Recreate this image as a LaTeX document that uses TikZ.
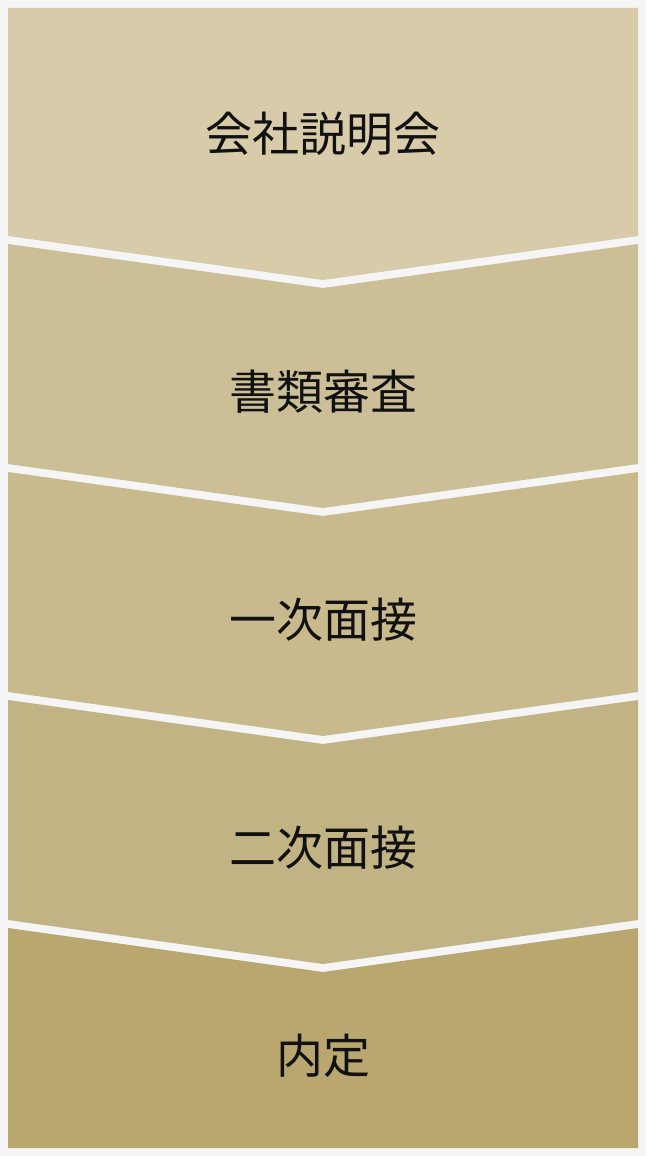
\documentclass[tikz,border=0pt]{standalone}
\usepackage{fontspec}
\newfontfamily\jpfont{Noto Sans CJK JP}
\definecolor{bgc}{HTML}{F5F5F5}
\definecolor{cA}{HTML}{D7CBAA}
\definecolor{cB}{HTML}{CCBF97}
\definecolor{cC}{HTML}{C8BA8D}
\definecolor{cD}{HTML}{C2B384}
\definecolor{cE}{HTML}{B9A76F}
\definecolor{txt}{HTML}{111111}
\tikzset{
  stagetext/.style={anchor=base, inner sep=0pt, text=txt, font=\jpfont\fontsize{47}{50}\selectfont},
}
\begin{document}
\begin{tikzpicture}[x=1pt,y=-1pt]
\fill[bgc] (0,0) rectangle (646,1156);
\useasboundingbox (0,0) rectangle (646,1156);
\fill[cA] (8,8) -- (638,8) -- (638,236) -- (323,280) -- (8,236) -- cycle;
\fill[cB] (8,244) -- (323,288) -- (638,244) -- (638,464) -- (323,508) -- (8,464) -- cycle;
\fill[cC] (8,472) -- (323,516) -- (638,472) -- (638,692) -- (323,736) -- (8,692) -- cycle;
\fill[cD] (8,700) -- (323,744) -- (638,700) -- (638,920) -- (323,964) -- (8,920) -- cycle;
\fill[cE] (8,928) -- (323,972) -- (638,928) -- (638,1148) -- (8,1148) -- cycle;
\node[stagetext] (s1) at (323,151.5) {会社説明会};
\node[stagetext] (s2) at (323,409.5) {書類審査};
\node[stagetext] (s3) at (323,637.5) {一次面接};
\node[stagetext] (s4) at (323,865.5) {二次面接};
\node[stagetext] (s5) at (323,1073) {内定};
\end{tikzpicture}
\end{document}
